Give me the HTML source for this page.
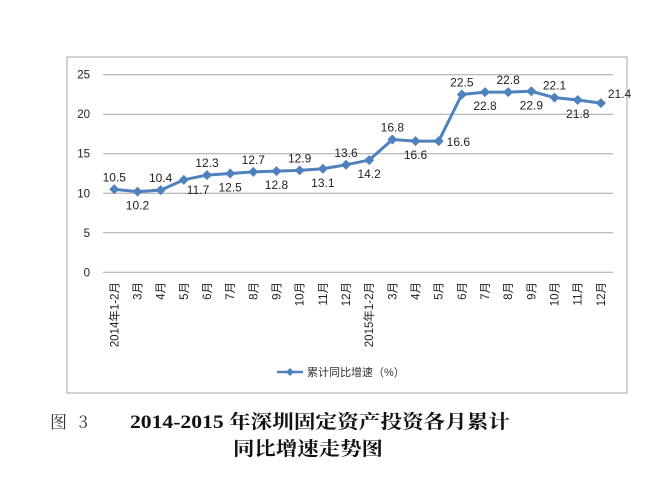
<!DOCTYPE html>
<html><head><meta charset="utf-8"><style>
body{margin:0;background:#fff;width:658px;height:486px;overflow:hidden;font-family:"Liberation Sans","Noto Sans CJK SC",sans-serif}
</style></head><body>
<svg width="658" height="486" xmlns="http://www.w3.org/2000/svg">
<rect x="67" y="57" width="560" height="336" fill="#fff" stroke="#a6a6a6" stroke-width="1"/>
<g id="grid"></g><g id="yt"></g><g id="xt"></g><g id="series"></g><g id="labels"></g>
<g>
<line x1="277" y1="372" x2="303" y2="372" stroke="#4f81bd" stroke-width="2.5"/>
<path d="M290 368 L294 372 L290 376 L286 372Z" fill="#4f81bd"/>
<text x="307" y="376" font-size="11" fill="#333" font-family="Liberation Sans,'Noto Sans CJK SC',sans-serif">累计同比增速（%）</text>
</g>
<text x="50" y="428" font-size="17" fill="#333" textLength="38" font-family="'Noto Serif CJK SC',serif">图 3</text>
<text x="130" y="428" font-size="19" font-weight="bold" fill="#111" textLength="380" lengthAdjust="spacingAndGlyphs" font-family="'Liberation Serif','Noto Serif CJK SC',serif">2014-2015 年深圳固定资产投资各月累计</text>
<text x="233" y="455" font-size="19" font-weight="bold" fill="#111" textLength="150" lengthAdjust="spacingAndGlyphs" font-family="'Noto Serif CJK SC',serif">同比增速走势图</text>
</svg>
<script>
const categories=["2014年1-2月","3月","4月","5月","6月","7月","8月","9月","10月","11月","12月","2015年1-2月","3月","4月","5月","6月","7月","8月","9月","10月","11月","12月"];
const values=[10.5,10.2,10.4,11.7,12.3,12.5,12.7,12.8,12.9,13.1,13.6,14.2,16.8,16.6,16.6,22.5,22.8,22.8,22.9,22.1,21.8,21.4];
const labelPos=["a","b","a","rb","a","b","a","b","a","b","a","b","a","b","r","a","b","a","b","a","b","ra"];
const yTicks=[0,5,10,15,20,25];
const NS="http://www.w3.org/2000/svg";
const y=v=>272.3-v*(272.3-74.7)/25;
const x=i=>114.3+i*23.17;
function mk(t,p,a){const e=document.createElementNS(NS,t);for(const k in a)e.setAttribute(k,a[k]);p.appendChild(e);return e;}
const g=document.getElementById('grid'),yt=document.getElementById('yt'),xt=document.getElementById('xt'),s=document.getElementById('series'),lb=document.getElementById('labels');
yTicks.forEach(v=>{
 const l=mk('line',g,{x1:103,x2:613,y1:y(v),y2:y(v),stroke:'#a6a6a6','stroke-width':1});
 
 
 const t=mk('text',yt,{x:90,y:y(v)+4,'font-size':11.5,fill:'#222','text-anchor':'end'});
 
 
 t.textContent=v;
});
categories.forEach((c,i)=>{
 const t=mk('text',xt,{x:0,y:0,'font-size':11.5,fill:'#222','text-anchor':'end',transform:`translate(${x(i)+4},282) rotate(-90)`});
 
 
 t.textContent=c;
});
const pl=mk('polyline',s,{points:values.map((v,i)=>x(i)+','+y(v)).join(' '),fill:'none',stroke:'#4f81bd','stroke-width':3,'stroke-linejoin':'round'});


values.forEach((v,i)=>{
 const cx=x(i),cy=y(v);
 const m=mk('path',s,{d:`M${cx} ${cy-5}L${cx+5} ${cy}L${cx} ${cy+5}L${cx-5} ${cy}Z`,fill:'#4f81bd'});
 
 
 const p=labelPos[i];let lx=cx,ly=cy,anc='middle';
 if(p=='a')ly=cy-8;else if(p=='b')ly=cy+18;else if(p=='r'){lx=cx+8;ly=cy+5;anc='start';}
 else if(p=='rb'){lx=cx+3;ly=cy+14;anc='start';}else if(p=='ra'){lx=cx+7;ly=cy-5;anc='start';}
 const t=mk('text',lb,{x:lx,y:ly,'font-size':12,fill:'#222','text-anchor':anc});
 
 
 t.textContent=v.toFixed(1);
});
</script>
</body></html>
